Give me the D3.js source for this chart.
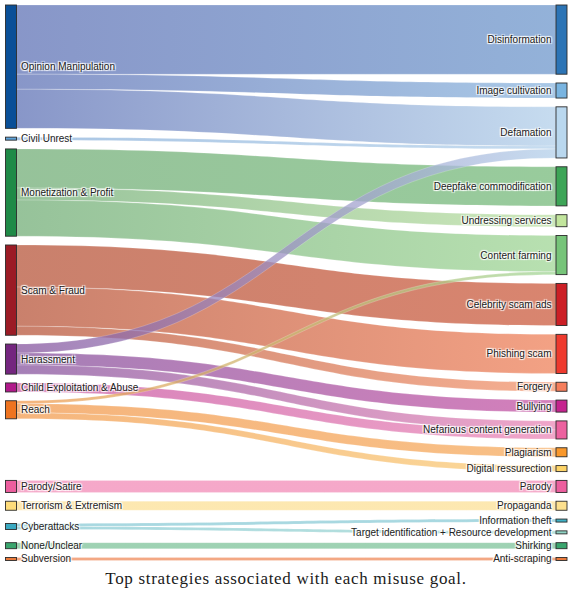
<!DOCTYPE html>
<html><head><meta charset="utf-8">
<script src="https://cdn.jsdelivr.net/npm/d3@7"></script>
<style>
html,body{margin:0;padding:0;background:#fff;}
svg{display:block;}
.lbl{font-family:"Liberation Sans",Arial,sans-serif;font-size:10px;fill:#222;
 text-shadow:1px 1px 1px #fff,-1px -1px 1px #fff,1px -1px 1px #fff,-1px 1px 1px #fff;}
.cap{font-family:"Liberation Serif","Times New Roman",serif;font-size:17px;fill:#1a1a1a;letter-spacing:0.7px;}
</style></head><body>
<svg id="chart" width="575" height="600"></svg>
<script>
// ---- data ----
const goals = ["Opinion Manipulation","Civil Unrest","Monetization & Profit","Scam & Fraud","Harassment",
  "Child Exploitation & Abuse","Reach","Parody/Satire","Terrorism & Extremism","Cyberattacks","None/Unclear","Subversion"];
const goalColors = ["#0a4f97","#5ea3d9","#1f8a47","#9b1b25","#74267f","#b0198a","#ee7420","#ec5e9e","#fedc7a","#3aa9c1","#3aa56e","#ea7a3c"];
const goalLinkTints = ["#8896c8","#a9c5e4","#96c29a","#c9806c","#a47fb6","#d47db8","#f5b47c","#f5a8c9","#fde8b0","#a8d8e0","#9ed2b3","#f3a884"];

const strategies = ["Disinformation","Image cultivation","Defamation","Deepfake commodification","Undressing services",
  "Content farming","Celebrity scam ads","Phishing scam","Forgery","Bullying","Nefarious content generation","Plagiarism",
  "Digital ressurection","Parody","Propaganda","Information theft","Target identification + Resource development","Shirking","Anti-scraping"];
const strategyColors = ["#2c74b5","#79b4e0","#b9d7ee","#3da557","#c2e59d","#76c479","#cc1f26","#ee3a2e","#f57e5c","#c5248f",
  "#ec619f","#f9982c","#fdd468","#ec5e9e","#fde08e","#3fb1c6","#8fd3c4","#3aa56e","#ea7a3c"];
const strategyLinkTints = ["#93b2d9","#a9c8e6","#c6dcef","#98cb9c","#cde8bb","#b8e0b0","#d9856f","#f3a184","#f7b092","#d47fbb",
  "#f0a6c9","#f8c086","#fbdc9c","#f5a8c9","#fde8b0","#a8d8e0","#b8e2dc","#9ed2b3","#f3a884"];

const linkSource = ["Opinion Manipulation","Opinion Manipulation","Opinion Manipulation","Civil Unrest",
  "Monetization & Profit","Monetization & Profit","Monetization & Profit",
  "Scam & Fraud","Scam & Fraud","Scam & Fraud",
  "Harassment","Harassment","Harassment","Child Exploitation & Abuse",
  "Reach","Reach","Reach","Parody/Satire","Terrorism & Extremism","Cyberattacks","Cyberattacks","None/Unclear","Subversion"];
const linkTarget = ["Disinformation","Image cultivation","Defamation","Defamation",
  "Deepfake commodification","Undressing services","Content farming",
  "Celebrity scam ads","Phishing scam","Forgery",
  "Defamation","Bullying","Nefarious content generation","Nefarious content generation",
  "Content farming","Plagiarism","Digital ressurection","Parody","Propaganda","Information theft",
  "Target identification + Resource development","Shirking","Anti-scraping"];
const linkValue = [23,5,13,1, 13,4,12, 14,13,3, 3,4,3,3, 1,3,2, 4,3,1,1,2,1];

const caption = "Top strategies associated with each misuse goal.";

// ---- layout ----
const ext = {x0:5.5, x1:567, y0:5, y1:560.5};
const nodeWidth = 11, pad = 8.8, linkAlpha = 0.75;

const nodes = goals.map((name,i)=>({name, col:0, color:goalColors[i], tint:goalLinkTints[i], sourceLinks:[], targetLinks:[]}))
  .concat(strategies.map((name,i)=>({name, col:1, color:strategyColors[i], tint:strategyLinkTints[i], sourceLinks:[], targetLinks:[]})));
const byName = new Map(nodes.map(n=>[n.name+"|"+n.col, n]));
const links = linkValue.map((v,i)=>({source:byName.get(linkSource[i]+"|0"), target:byName.get(linkTarget[i]+"|1"), value:v}));
links.forEach(l=>{l.source.sourceLinks.push(l); l.target.targetLinks.push(l);});
nodes.forEach(n=>n.value=Math.max(d3.sum(n.sourceLinks,l=>l.value), d3.sum(n.targetLinks,l=>l.value)));
const left = nodes.filter(n=>n.col===0), right = nodes.filter(n=>n.col===1);
[left,right].forEach((c,ci)=>c.forEach(n=>{n.x0 = ci ? ext.x1-nodeWidth : ext.x0; n.x1 = n.x0+nodeWidth;}));
const ky = d3.min([left,right], c=>(ext.y1-ext.y0-(c.length-1)*pad)/d3.sum(c,n=>n.value));
links.forEach(l=>l.width=l.value*ky);
const center = n=>(n.y0+n.y1)/2;

function pack(col){
  let y = ext.y0;
  col.forEach(n=>{ n.y0=y; n.y1=y+n.value*ky; y=n.y1+pad; });
}
pack(right);
pack(left);
// goals whose strategies are fed only by them slide down to line up with those strategies
let limit = ext.y1;
for (let i=left.length-1;i>=0;i--){
  const n = left[i], h = n.y1-n.y0;
  const exclusive = n.sourceLinks.every(l=>l.target.targetLinks.length===1);
  if (exclusive){
    const c = d3.sum(n.sourceLinks,l=>center(l.target)*l.value)/d3.sum(n.sourceLinks,l=>l.value);
    const top = Math.min(c-h/2, limit-h);
    if (top>n.y0){ n.y0=top; n.y1=top+h; }
  }
  limit = n.y0-pad;
}

nodes.forEach(n=>{ n.sourceLinks.sort((a,b)=>a.target.y0-b.target.y0); n.targetLinks.sort((a,b)=>a.source.y0-b.source.y0); });
nodes.forEach(n=>{
  let a=n.y0, b=n.y0;
  n.sourceLinks.forEach(l=>{l.y0=a+l.width/2; a+=l.width;});
  n.targetLinks.forEach(l=>{l.y1=b+l.width/2; b+=l.width;});
});

// ---- draw ----
const svg = d3.select("#chart");
const unblend = (hex,a)=>{ const c=d3.rgb(hex); const f=v=>Math.max(0,Math.min(255,Math.round(255-(255-v)/a))); return d3.rgb(f(c.r),f(c.g),f(c.b)).formatHex(); };
const defs = svg.append("defs");
links.forEach((l,i)=>{
  const g = defs.append("linearGradient").attr("id","lg"+i).attr("gradientUnits","userSpaceOnUse")
    .attr("x1",l.source.x1).attr("x2",l.target.x0).attr("y1",0).attr("y2",0);
  g.append("stop").attr("offset","0%").attr("stop-color",unblend(l.source.tint,linkAlpha));
  g.append("stop").attr("offset","100%").attr("stop-color",unblend(l.target.tint,linkAlpha));
});
function linkPath(l){
  const x0=l.source.x1, x1=l.target.x0, xi=d3.interpolateNumber(x0,x1), x2=xi(0.5), x3=xi(0.5);
  const y0a=l.y0-l.width/2, y0b=l.y0+l.width/2, y1a=l.y1-l.width/2, y1b=l.y1+l.width/2;
  return `M${x0},${y0a}C${x2},${y0a} ${x3},${y1a} ${x1},${y1a}L${x1},${y1b}C${x3},${y1b} ${x2},${y0b} ${x0},${y0b}Z`;
}
svg.append("g").selectAll("path").data(links).join("path")
  .attr("d",linkPath).attr("fill",(d,i)=>`url(#lg${i})`).attr("fill-opacity",linkAlpha)
  .attr("stroke","#fff").attr("stroke-width",0.4).attr("stroke-opacity",0.5);

svg.append("g").selectAll("rect").data(nodes).join("rect")
  .attr("x",d=>d.x0).attr("y",d=>d.y0).attr("width",d=>d.x1-d.x0).attr("height",d=>Math.max(1,d.y1-d.y0))
  .attr("fill",d=>d.color).attr("stroke","#2b2b2b").attr("stroke-width",0.9);

svg.append("g").selectAll("text").data(nodes).join("text").attr("class","lbl")
  .attr("x",d=>d.col? d.x0-4.5 : d.x1+4.5).attr("y",d=>center(d)).attr("dy","0.35em")
  .attr("text-anchor",d=>d.col?"end":"start").text(d=>d.name);

svg.append("text").attr("class","cap").attr("x",286).attr("y",584).attr("text-anchor","middle").text(caption);
</script>
</body></html>
